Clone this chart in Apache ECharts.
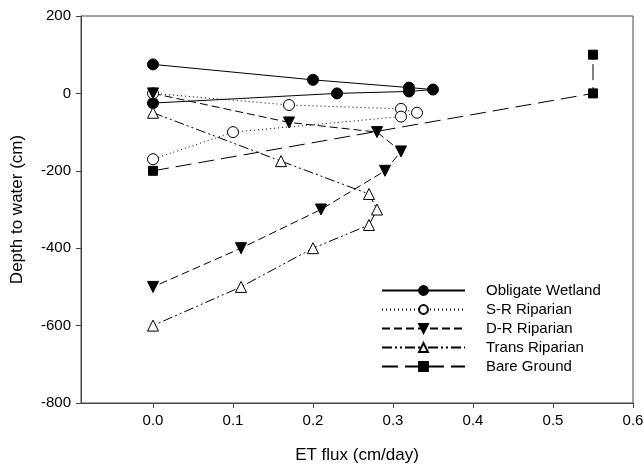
<!DOCTYPE html>
<html><head><meta charset="utf-8">
<script src="https://cdn.jsdelivr.net/npm/echarts@6/dist/echarts.min.js"></script>
<style>html,body{margin:0;padding:0;background:#fff}#c{width:644px;height:465px}</style>
</head><body><div id="c"></div>
<script>
var xTicks = [0, 0.1, 0.2, 0.3, 0.4, 0.5, 0.6];
var seriesNames = ['Obligate Wetland', 'S-R Riparian', 'D-R Riparian', 'Trans Riparian', 'Bare Ground'];
var obligateWetland = [[0, 75], [0.2, 35], [0.32, 15], [0.35, 10], [0.32, 5], [0.23, 0], [0, -25]];
var srRiparian = [[0, 0], [0.17, -30], [0.31, -40], [0.33, -50], [0.31, -60], [0.1, -100], [0, -170]];
var drRiparian = [[0, 0], [0.17, -75], [0.28, -100], [0.31, -150], [0.29, -200], [0.21, -300], [0.11, -400], [0, -500]];
var transRiparian = [[0, -50], [0.16, -175], [0.27, -260], [0.28, -300], [0.27, -340], [0.2, -400], [0.11, -500], [0, -600]];
var bareGround = [[0, -200], [0.55, 0], [0.55, 100]];

var font = 'Liberation Sans, Arial, sans-serif';
function mk(name, data, symbol, rot, size, filled, dash) {
  return {
    name: name, type: 'line', data: data, symbol: symbol, symbolSize: size, symbolRotate: rot,
    showAllSymbol: true,
    lineStyle: {color: '#000', width: 1, type: dash},
    itemStyle: {color: filled ? '#000' : '#fff', borderColor: '#000', borderWidth: 1},
    emphasis: {disabled: true}, z: 2
  };
}
var chart = echarts.init(document.getElementById('c'), null, {renderer: 'canvas'});
chart.setOption({
  animation: false,
  backgroundColor: '#fff',
  grid: {left: 81, right: 11, top: 16, bottom: 62, outerBoundsMode: 'none', containLabel: false,
    show: true, borderColor: '#444', borderWidth: 1, backgroundColor: 'transparent'},
  xAxis: {
    type: 'value', min: -0.09, max: 0.6,
    name: 'ET flux (cm/day)', nameLocation: 'middle', nameGap: 44,
    nameTextStyle: {fontFamily: font, fontSize: 17, color: '#000'},
    axisLine: {show: true, onZero: false, lineStyle: {color: '#444'}},
    axisTick: {show: true, inside: false, length: 5, customValues: xTicks, lineStyle: {color: '#444'}},
    axisLabel: {customValues: xTicks, margin: 10, fontFamily: font, fontSize: 15, color: '#000',
      formatter: function (v) { return v.toFixed(1); }},
    splitLine: {show: false}
  },
  yAxis: {
    type: 'value', min: -800, max: 200, interval: 200,
    name: 'Depth to water (cm)', nameLocation: 'middle', nameGap: 55,
    nameTextStyle: {fontFamily: font, fontSize: 17, color: '#000'},
    axisLine: {show: true, onZero: false, lineStyle: {color: '#444'}},
    axisTick: {show: true, inside: false, length: 5, lineStyle: {color: '#444'}},
    axisLabel: {margin: 10, fontFamily: font, fontSize: 15, color: '#000'},
    splitLine: {show: false}
  },
  legend: {
    data: seriesNames, orient: 'vertical', left: 376, top: 278,
    itemWidth: 83, itemHeight: 11, itemGap: 4,
    textStyle: {fontFamily: font, fontSize: 15, color: '#000', padding: [0, 0, 0, 16]},
    selectedMode: false
  },
  series: [
    mk(seriesNames[0], obligateWetland, 'circle', 0, 11, true, 'solid'),
    mk(seriesNames[1], srRiparian, 'circle', 0, 11, false, [1, 3]),
    mk(seriesNames[2], drRiparian, 'triangle', 180, 11, true, [8, 4]),
    mk(seriesNames[3], transRiparian, 'triangle', 0, 11, false, [10, 3, 2, 3, 2, 3]),
    mk(seriesNames[4], bareGround, 'rect', 0, 9, true, [16, 7])
  ]
});
</script></body></html>
